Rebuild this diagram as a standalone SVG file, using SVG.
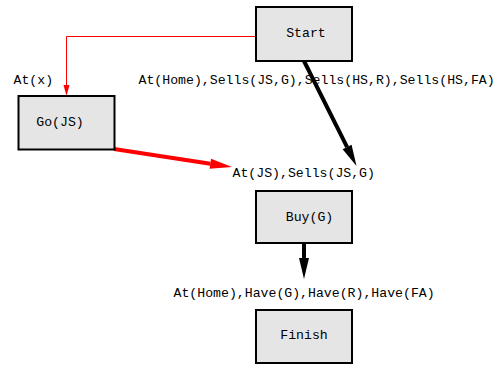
<svg xmlns="http://www.w3.org/2000/svg" width="499" height="365" viewBox="0 0 499 365">
<defs>
<style>
.node rect{fill:#e5e5e5;stroke:#000;stroke-width:2}
text{font-family:"Liberation Mono","DejaVu Sans Mono",monospace;font-size:13.2px;fill:#000}
.thick{stroke:#000;stroke-width:4;fill:none}
.red{stroke:#ff0000;stroke-width:4;fill:none}
.thin{stroke:#ff0000;stroke-width:1;fill:none}
</style>
<marker id="hb" markerUnits="userSpaceOnUse" markerWidth="22" markerHeight="12" viewBox="0 -6 22 12" refX="0" refY="0" orient="auto" overflow="visible"><path d="M0,-5 L21,0 L0,5 z" fill="#000"/></marker>
<marker id="hr" markerUnits="userSpaceOnUse" markerWidth="24" markerHeight="12" viewBox="0 -6 24 12" refX="0" refY="0" orient="auto" overflow="visible"><path d="M0,-5 L22,0 L0,5 z" fill="#ff0000"/></marker>
<marker id="ht" markerUnits="userSpaceOnUse" markerWidth="12" markerHeight="8" viewBox="0 -4 12 8" refX="0" refY="0" orient="auto" overflow="visible"><path d="M0,-3 L11,0 L0,3 z" fill="#ff0000"/></marker>
</defs>
<g id="connectors">
<polyline class="thin" points="256,36.5 66.5,36.5 66.5,85" marker-end="url(#ht)"/>
<line class="thick" x1="304" y1="61" x2="347.1" y2="147.1" marker-end="url(#hb)"/>
<line class="red" x1="114" y1="149" x2="210.3" y2="163.7" marker-end="url(#hr)"/>
<line class="thick" x1="304" y1="243" x2="304" y2="258" marker-end="url(#hb)"/>
</g>
<g id="labels">
<text x="138.5" y="84">At(Home),Sells(JS,G),Sells(HS,R),Sells(HS,FA)</text>
<text x="13.5" y="84">At(x)</text>
<text x="232.5" y="177">At(JS),Sells(JS,G)</text>
<text x="173.5" y="297">At(Home),Have(G),Have(R),Have(FA)</text>
</g>
<g id="start" class="node"><rect x="256" y="7" width="96" height="54"/><text x="306" y="37" text-anchor="middle">Start</text></g>
<g id="gojs" class="node"><rect x="18.5" y="96" width="96" height="53.5"/><text x="60" y="126" text-anchor="middle">Go(JS)</text></g>
<g id="buyg" class="node"><rect x="256" y="191" width="96" height="52"/><text x="309.5" y="221" text-anchor="middle">Buy(G)</text></g>
<g id="finish" class="node"><rect x="256" y="310" width="96" height="53"/><text x="304" y="339" text-anchor="middle">Finish</text></g>
</svg>
